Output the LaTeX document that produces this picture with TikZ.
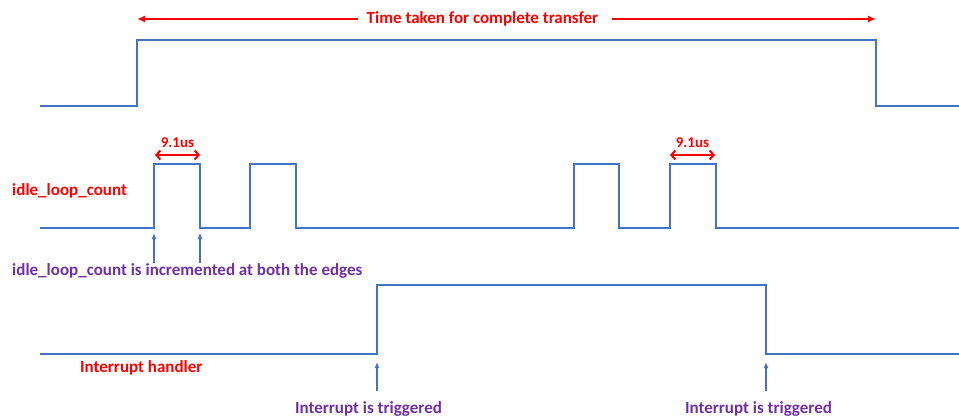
\documentclass[tikz,border=0pt]{standalone}
\usepackage{fontspec}
\setmainfont{Carlito}
\usetikzlibrary{arrows.meta}
\definecolor{sigblue}{HTML}{4472C4}
\definecolor{myred}{HTML}{FF0000}
\definecolor{mypurple}{HTML}{7030A0}
\tikzset{
  signal/.style={draw=sigblue, line width=2.8pt, line join=miter},
  redarr/.style={draw=myred, line width=2pt, -{Latex[length=8pt,width=7pt]}},
  dimarr/.style={draw=myred, line width=2pt, {Straight Barb[length=4pt,width=9pt,line width=2pt]}-{Straight Barb[length=4pt,width=9pt,line width=2pt]}},
  uparr/.style={draw=sigblue, line width=1.8pt, -{Latex[length=6pt,width=5pt]}},
  redtxt/.style={text=myred, font=\bfseries\fontsize{17}{19}\selectfont, inner sep=0pt},
  smallred/.style={text=myred, font=\bfseries\fontsize{15}{17}\selectfont, inner sep=0pt},
  purtxt/.style={text=mypurple, font=\bfseries\fontsize{17}{19}\selectfont, inner sep=0pt},
}
\begin{document}
\begin{tikzpicture}[x=1pt,y=-1pt]
\useasboundingbox (0,0) rectangle (959,417);
% top signal
\draw[signal] (40,106) -- (137,106) -- (137,40) -- (876,40) -- (876,106) -- (959,106);
% title arrow
\node[redtxt] (ttl) at (482.5,19) {Time taken for complete transfer};
\coordinate (tl) at (137,19);
\coordinate (tr) at (876,19);
\draw[redarr] ([xshift=-9pt]ttl.west) -- (tl);
\draw[redarr] ([xshift=14pt]ttl.east) -- (tr);
% idle_loop_count signal
\draw[signal] (40,228) -- (154,228) -- (154,164) -- (200,164) -- (200,228) -- (250,228) -- (250,164) -- (296,164) -- (296,228)
  -- (574,228) -- (574,164) -- (619,164) -- (619,228) -- (670,228) -- (670,164) -- (716,164) -- (716,228) -- (959,228);
\node[redtxt, anchor=west] (ilc) at (12,191) {idle\_loop\_count};
% 9.1us
\coordinate (d1l) at (155,155);
\coordinate (d1r) at (200,155);
\draw[dimarr] (d1l) -- (d1r);
\node[smallred] (t1) at (177.5,143) {9.1us};
\coordinate (d2l) at (670,155);
\coordinate (d2r) at (715,155);
\draw[dimarr] (d2l) -- (d2r);
\node[smallred] (t2) at (692.5,143) {9.1us};
% edge arrows
\coordinate (e1b) at (154,263);
\coordinate (e1t) at (154,233);
\coordinate (e2b) at (200,263);
\coordinate (e2t) at (200,233);
\draw[uparr] (e1b) -- (e1t);
\draw[uparr] (e2b) -- (e2t);
\node[purtxt, anchor=west] (inc) at (12,271) {idle\_loop\_count is incremented at both the edges};
% interrupt signal
\draw[signal] (40,354) -- (377,354) -- (377,285) -- (766,285) -- (766,354) -- (959,354);
\node[redtxt, anchor=west] (ih) at (80,368) {Interrupt handler};
\coordinate (i1b) at (377,391);
\coordinate (i1t) at (377,362);
\coordinate (i2b) at (766,391);
\coordinate (i2t) at (766,362);
\draw[uparr] (i1b) -- (i1t);
\draw[uparr] (i2b) -- (i2t);
\node[purtxt] (it1) at (368.5,409) {Interrupt is triggered};
\node[purtxt] (it2) at (758.5,409) {Interrupt is triggered};
\end{tikzpicture}
\end{document}
